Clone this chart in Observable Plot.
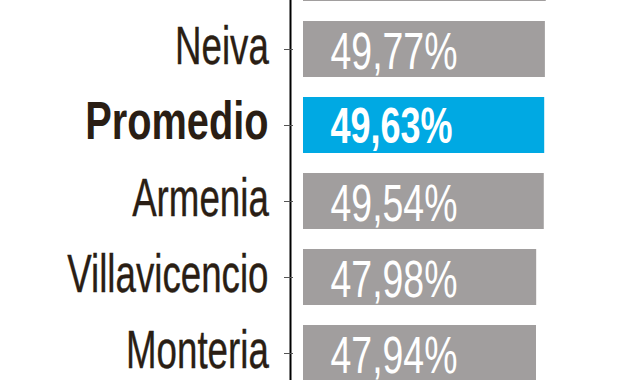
<!DOCTYPE html>
<html><head><meta charset="utf-8">
<script src="https://cdn.jsdelivr.net/npm/d3@7"></script>
<script src="https://cdn.jsdelivr.net/npm/@observablehq/plot@0.6"></script>
<style>html,body{margin:0;padding:0;background:#fff;overflow:hidden}</style>
</head><body><div id="chart"></div>
<script>
const cities = [" ", "Neiva", "Promedio", "Armenia", "Villavicencio", "Monteria"];
const values = [49.95, 49.77, 49.63, 49.54, 47.98, 47.94];
const highlight = "Promedio";
const data = cities.map((c, i) => ({city: c, value: values[i]}));
const fmt = v => v.toFixed(2).replace(".", ",") + "%";
const gray = "#a19e9e", blue = "#00a9e3", ink = "#2a1e14";
const shown = data.filter(d => d.city.trim() !== "");
const normal = shown.filter(d => d.city !== highlight);
const bold = shown.filter(d => d.city === highlight);

const chart = Plot.plot({
  width: 640, height: 380,
  marginLeft: 290, marginRight: 94, marginTop: 0, marginBottom: 0,
  style: {fontFamily: "'Liberation Sans Narrow', 'Liberation Sans', sans-serif", background: "#fff"},
  x: {domain: [0, 50], range: [303, 546], axis: null},
  y: {type: "band", domain: cities, range: [-66, 392], paddingInner: 0.267, paddingOuter: 0.133, axis: null},
  marks: [
    Plot.barX(data, {x: "value", y: "city", fill: d => d.city === highlight ? blue : gray}),
    Plot.frame({anchor: "left", stroke: "#000", strokeWidth: 2}),
    Plot.axisY({tickSize: 9, dx: 3, tickFormat: () => "", label: null, stroke: "#555"}),
    Plot.text(normal, {y: "city", text: "city", frameAnchor: "left", dx: -22, dy: -3, textAnchor: "end", fontSize: 54, fill: ink, stroke: ink, strokeWidth: 0.4, className: "lab"}),
    Plot.text(bold, {y: "city", text: "city", frameAnchor: "left", dx: -22, dy: -3, textAnchor: "end", fontSize: 53, fontWeight: "bold", fill: ink, className: "labb"}),
    Plot.text(normal, {y: "city", text: d => fmt(d.value), frameAnchor: "left", dx: 40, dy: 3, textAnchor: "start", fontSize: 52, fill: "#fff", className: "val"}),
    Plot.text(bold, {y: "city", text: d => fmt(d.value), frameAnchor: "left", dx: 40, dy: 1, textAnchor: "start", fontSize: 50, fontWeight: "bold", fill: "#fff", className: "val"})
  ]
});
document.getElementById("chart").appendChild(chart);

// condense the lettering horizontally around each text's anchor
const squeeze = {lab: 0.68, labb: 0.75, val: 0.72};
Object.entries(squeeze).forEach(([cls, sx]) => {
  chart.querySelectorAll(`g.${cls} text`).forEach(el => {
    const bb = el.getBBox();
    const anchor = getComputedStyle(el).textAnchor;
    const X = anchor === "end" ? bb.x + bb.width : anchor === "middle" ? bb.x + bb.width / 2 : bb.x;
    const t = el.getAttribute("transform") || "";
    el.setAttribute("transform", `${t} translate(${X},0) scale(${sx},1) translate(${-X},0)`);
  });
});
</script>
</body></html>
